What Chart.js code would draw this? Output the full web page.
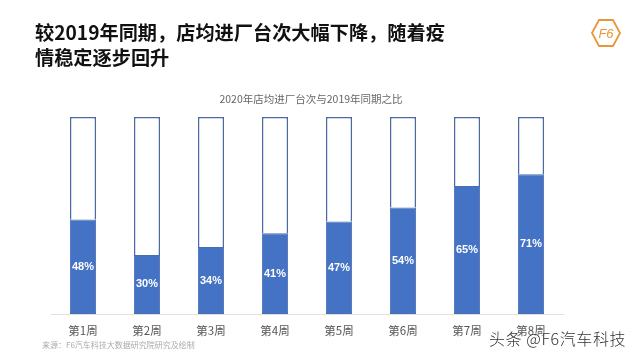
<!DOCTYPE html>
<html><head><meta charset="utf-8">
<script src="https://cdn.jsdelivr.net/npm/chart.js@4/dist/chart.umd.min.js"></script>
<style>
html,body{margin:0;padding:0;background:#fff;width:640px;height:360px;overflow:hidden;font-family:"Noto Sans CJK SC","Noto Sans",sans-serif;}
#wrap{position:relative;width:640px;height:360px;}
#c{position:absolute;left:0;top:0;}
.t{position:absolute;white-space:nowrap;}
#title{left:35px;top:20px;font-size:19.2px;font-weight:bold;color:#111;line-height:25px;}
#sub{left:0;width:622px;text-align:center;top:91px;font-size:10.5px;color:#666;}
#src{left:42px;top:339px;font-size:8px;color:#aaa;}
#wm{left:489px;top:326px;font-size:16px;letter-spacing:0.6px;color:#333;font-weight:300;text-shadow:0 0 2px #fff,0 0 2px #fff;}
#logo{position:absolute;left:590px;top:17px;}
</style></head><body>
<div id="wrap">
<canvas id="c" width="640" height="360"></canvas>
<div class="t" id="title">较2019年同期，店均进厂台次大幅下降，随着疫<br>情稳定逐步回升</div>
<svg id="logo" width="32" height="32" viewBox="0 0 32 32"><polygon points="2,16 9,3 23,3 30,16 23,29 9,29" fill="none" stroke="#e8963a" stroke-width="1.8"/><text x="16" y="21" text-anchor="middle" font-size="13" font-style="italic" font-family="Liberation Sans" fill="#e8963a">F6</text></svg>
<div class="t" id="sub">2020年店均进厂台次与2019年同期之比</div>
<div class="t" id="src">来源：F6汽车科技大数据研究院研究及绘制</div>
<div class="t" id="wm">头条 @F6汽车科技</div>
</div>
<script>
const categories = ["第1周","第2周","第3周","第4周","第5周","第6周","第7周","第8周"];
const ratioValues = [48, 30, 34, 41, 47, 54, 65, 71];
const remainderValues = ratioValues.map(v => 100 - v);

const labelPlugin = {
  id: 'barLabels',
  afterDatasetsDraw(chart) {
    const ctx = chart.ctx;
    const meta = chart.getDatasetMeta(0);
    ctx.save();
    ctx.fillStyle = '#fff';
    ctx.font = 'bold 11px "Liberation Sans", Arial, sans-serif';
    ctx.textAlign = 'center';
    ctx.textBaseline = 'middle';
    meta.data.forEach((bar, i) => {
      const y = (bar.y + bar.base) / 2;
      ctx.fillText(ratioValues[i] + '%', bar.x, y);
    });
    ctx.restore();
  }
};

new Chart(document.getElementById('c'), {
  type: 'bar',
  data: {
    labels: categories,
    datasets: [
      { data: ratioValues, backgroundColor: '#4472C4', borderColor: '#4a6cb0', borderWidth: 1, borderSkipped: false, barPercentage: 0.41, categoryPercentage: 1 },
      { data: remainderValues, backgroundColor: '#ffffff', borderColor: '#4d6aa6', borderWidth: 1.6, barPercentage: 0.41, categoryPercentage: 1 }
    ]
  },
  options: {
    responsive: false,
    animation: false,
    events: [],
    layout: { padding: { left: 51, right: 77, top: 117, bottom: 0 } },
    plugins: { legend: { display: false }, tooltip: { enabled: false }, title: { display: false } },
    scales: {
      x: {
        stacked: true,
        grid: { display: false },
        border: { display: true, color: '#e0e0e0', width: 1 },
        ticks: { color: '#555', font: { size: 11.5, family: '"Noto Sans CJK SC"' }, padding: 2 },
        afterFit(s) { s.height = 46; }
      },
      y: { stacked: true, display: false, min: 0, max: 100 }
    }
  },
  plugins: [labelPlugin]
});
</script>
</body></html>
